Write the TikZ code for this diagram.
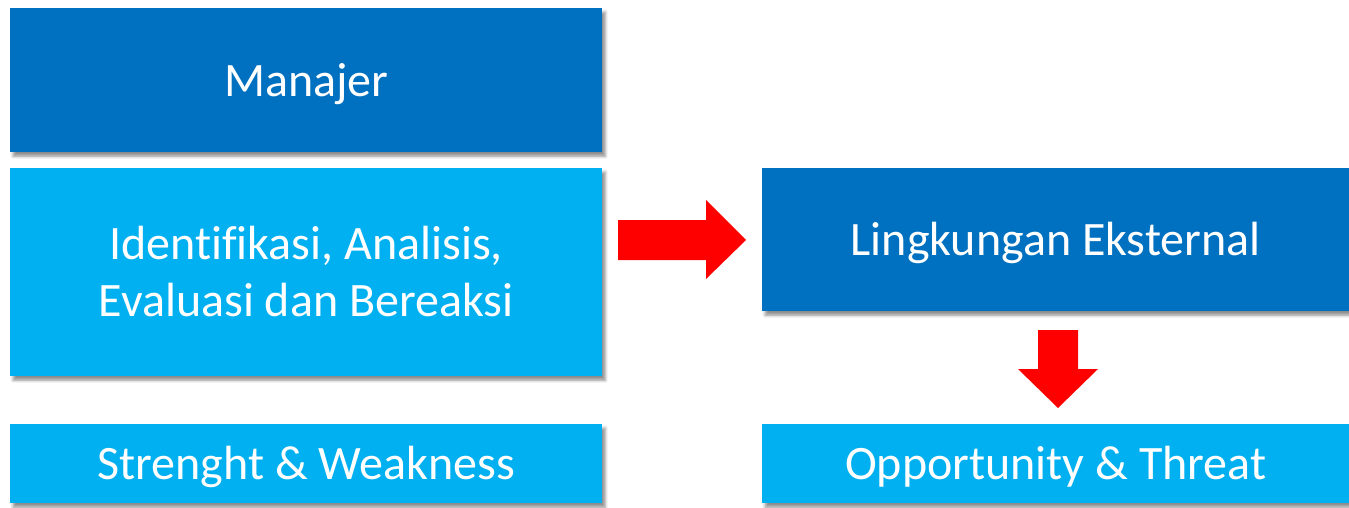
\documentclass[tikz,border=0pt]{standalone}
\usepackage{fontspec}
\setmainfont{Carlito}[Ligatures={NoCommon}]
\usetikzlibrary{shadows.blur}
\definecolor{darkb}{HTML}{0070C0}
\definecolor{lightb}{HTML}{00B0F0}
\definecolor{redarrow}{HTML}{FF0000}
\begin{document}
\begin{tikzpicture}[x=1pt,y=-1pt,
  box/.style={draw=none, minimum width=#1, inner sep=0pt, text=white,
    font=\fontsize{48}{57}\selectfont, text height=40pt, text depth=8pt,
    blur shadow={shadow xshift=3pt, shadow yshift=-4pt, shadow blur radius=3pt, shadow opacity=45}},
  darkbox/.style={box=592pt, fill=darkb},
  lightbox/.style={box=592pt, fill=lightb},
  blockarrow/.style={fill=redarrow, draw=none}]
\useasboundingbox (0,0) rectangle (1349,508);
\node[darkbox, minimum height=144pt, anchor=north west] (manajer) at (10,8) {Manajer};
\node[lightbox, minimum height=208pt, anchor=north west, text height=30pt, text depth=55.4pt] (ident) at (10,168)
  {\begin{tabular}[t]{@{}c@{}}Identifikasi, Analisis,\\Evaluasi dan Bereaksi\end{tabular}};
\node[lightbox, minimum height=79pt, anchor=north west] (sw) at (10,424) {Strenght \& Weakness};
\node[box=587pt, fill=darkb, minimum height=143pt, anchor=north west] (ling) at (762,168) {Lingkungan Eksternal};
\node[box=587pt, fill=lightb, minimum height=79pt, anchor=north west] (ot) at (762,424) {Opportunity \& Threat};
% right block arrow
\fill[blockarrow] (618,220) -- (706,220) -- (706,200) -- (746,240) -- (706,279) -- (706,260) -- (618,260) -- cycle;
% down block arrow
\fill[blockarrow] (1038,330) -- (1078,330) -- (1078,369) -- (1098,369) -- (1058,408) -- (1018,369) -- (1038,369) -- cycle;
\end{tikzpicture}
\end{document}
